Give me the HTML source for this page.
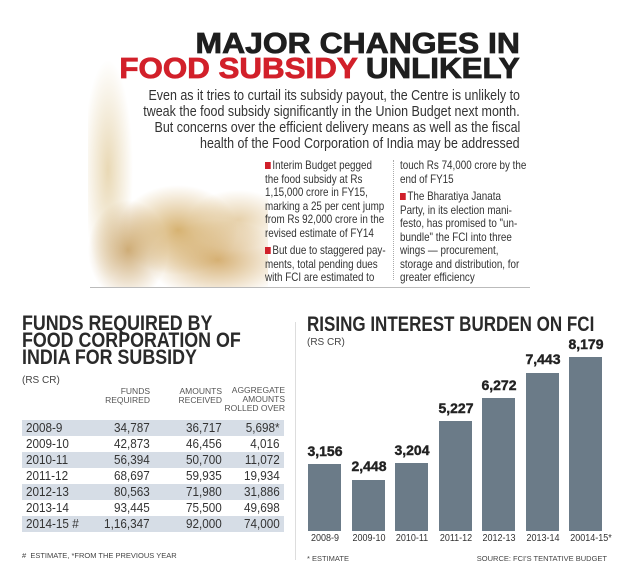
<!DOCTYPE html>
<html><head><meta charset="utf-8"><style>
body{margin:0;width:630px;height:580px;background:#fff;position:relative;overflow:hidden;font-family:"Liberation Sans",sans-serif;}
.a{position:absolute;white-space:nowrap;}
.hd{font-family:"Liberation Sans",sans-serif;font-weight:900;font-size:29px;letter-spacing:0px;line-height:29px;transform-origin:right top;-webkit-text-stroke:0.8px currentColor;}
.p{font-size:14.5px;color:#333;line-height:16px;text-align:right;right:110px;transform:scaleX(0.86);transform-origin:right top;}
.b{font-size:12px;color:#333;line-height:13.5px;transform:scaleX(0.82);transform-origin:left top;}
.sq{display:inline-block;width:7px;height:7px;background:#d0202b;margin-right:2px;}
.t{font-weight:bold;font-size:21px;color:#2a2a2a;line-height:17px;transform:scaleX(0.85);transform-origin:left top;}
.s{font-size:10px;color:#444;}
.row{position:absolute;left:22px;width:262px;height:16px;font-size:13px;color:#333;line-height:16px;}
.row span{position:absolute;transform:scaleX(0.9);transform-origin:right center;}
.bar{position:absolute;background:#6b7b88;width:33px;}
.v{position:absolute;font-weight:900;font-size:14px;color:#222;width:50px;text-align:center;-webkit-text-stroke:0.4px #222;}
.x{position:absolute;font-size:10px;color:#333;width:50px;text-align:center;top:533px;transform:scaleX(0.9);}
</style></head><body>
<!-- wheat -->
<div class="a" style="left:88px;top:20px;width:180px;height:268px;background:
radial-gradient(ellipse 60px 45px at 90px 210px,rgba(205,160,80,.8),rgba(230,200,140,0) 100%),
radial-gradient(ellipse 70px 40px at 130px 240px,rgba(200,150,70,.75),rgba(230,200,140,0) 100%),
radial-gradient(ellipse 40px 50px at 40px 230px,rgba(190,145,75,.75),rgba(230,200,140,0) 100%),
radial-gradient(ellipse 25px 110px at 20px 150px,rgba(215,185,120,.55),rgba(230,200,140,0) 100%),
radial-gradient(ellipse 50px 30px at 150px 200px,rgba(210,170,100,.55),rgba(230,200,140,0) 100%);"></div>
<div class="a" style="left:90px;top:287px;width:440px;height:1px;background:#bbb"></div>
<div class="a hd" style="right:110px;top:30px;color:#1e1e1e;transform:scaleX(1.1)">MAJOR CHANGES IN</div>
<div class="a hd" style="right:110px;top:55px;transform:scaleX(1.08)"><span style="color:#d2202a">FOOD SUBSIDY</span> <span style="color:#1e1e1e">UNLIKELY</span></div>
<div class="a p" style="top:88px">Even as it tries to curtail its subsidy payout, the Centre is unlikely to</div>
<div class="a p" style="top:104px">tweak the food subsidy significantly in the Union Budget next month.</div>
<div class="a p" style="top:120px">But concerns over the efficient delivery means as well as the fiscal</div>
<div class="a p" style="top:136px">health of the Food Corporation of India may be addressed</div>
<div class="a b" style="left:265px;top:159px"><span class="sq"></span>Interim Budget pegged<br>the food subsidy at Rs<br>1,15,000 crore in FY15,<br>marking a 25 per cent jump<br>from Rs 92,000 crore in the<br>revised estimate of FY14<br><span style="display:block;height:4px"></span><span class="sq"></span>But due to staggered pay-<br>ments, total pending dues<br>with FCI are estimated to</div>
<div class="a" style="left:393px;top:160px;width:0;height:120px;border-left:1px dotted #aaa"></div>
<div class="a b" style="left:400px;top:159px">touch Rs 74,000 crore by the<br>end of FY15<br><span style="display:block;height:4px"></span><span class="sq"></span>The Bharatiya Janata<br>Party, in its election mani-<br>festo, has promised to "un-<br>bundle" the FCI into three<br>wings — procurement,<br>storage and distribution, for<br>greater efficiency</div>

<!-- left table -->
<div class="a t" style="left:22px;top:315px">FUNDS REQUIRED BY<br>FOOD CORPORATION OF<br>INDIA FOR SUBSIDY</div>
<div class="a s" style="left:22px;top:375px">(RS CR)</div>
<div class="a s" style="left:22px;top:387px;width:262px;height:30px;font-size:8.5px;line-height:9px;color:#555">
<span style="position:absolute;right:134px;text-align:right">FUNDS<br>REQUIRED</span>
<span style="position:absolute;right:62px;text-align:right">AMOUNTS<br>RECEIVED</span>
<span style="position:absolute;right:-1px;text-align:right;top:-1px">AGGREGATE<br>AMOUNTS<br>ROLLED OVER</span></div>
<div class="row" style="top:420px;background:#d6dde6"><span style="left:4px;transform-origin:left center">2008-9</span><span style="right:134px">34,787</span><span style="right:62px">36,717</span><span style="right:4px">5,698*</span></div>
<div class="row" style="top:436px"><span style="left:4px;transform-origin:left center">2009-10</span><span style="right:134px">42,873</span><span style="right:62px">46,456</span><span style="right:4px">4,016</span></div>
<div class="row" style="top:452px;background:#d6dde6"><span style="left:4px;transform-origin:left center">2010-11</span><span style="right:134px">56,394</span><span style="right:62px">50,700</span><span style="right:4px">11,072</span></div>
<div class="row" style="top:468px"><span style="left:4px;transform-origin:left center">2011-12</span><span style="right:134px">68,697</span><span style="right:62px">59,935</span><span style="right:4px">19,934</span></div>
<div class="row" style="top:484px;background:#d6dde6"><span style="left:4px;transform-origin:left center">2012-13</span><span style="right:134px">80,563</span><span style="right:62px">71,980</span><span style="right:4px">31,886</span></div>
<div class="row" style="top:500px"><span style="left:4px;transform-origin:left center">2013-14</span><span style="right:134px">93,445</span><span style="right:62px">75,500</span><span style="right:4px">49,698</span></div>
<div class="row" style="top:516px;background:#d6dde6"><span style="left:4px;transform-origin:left center">2014-15 #</span><span style="right:134px">1,16,347</span><span style="right:62px">92,000</span><span style="right:4px">74,000</span></div>
<div class="a" style="left:22px;top:551px;font-size:7.5px;color:#444">#&nbsp; ESTIMATE, *FROM THE PREVIOUS YEAR</div>
<div class="a" style="left:295px;top:322px;width:1px;height:238px;background:#ddd"></div>

<!-- bar chart -->
<div class="a t" style="left:307px;top:316px;transform:scaleX(0.81)">RISING INTEREST BURDEN ON FCI</div>
<div class="a s" style="left:307px;top:337px">(RS CR)</div>
<div class="bar" style="left:308px;top:464px;height:67px"></div>
<div class="bar" style="left:352px;top:480px;height:51px"></div>
<div class="bar" style="left:395px;top:463px;height:68px"></div>
<div class="bar" style="left:439px;top:421px;height:110px"></div>
<div class="bar" style="left:482px;top:398px;height:133px"></div>
<div class="bar" style="left:526px;top:373px;height:158px"></div>
<div class="bar" style="left:569px;top:357px;height:174px"></div>
<div class="v" style="left:300px;top:443px">3,156</div>
<div class="v" style="left:344px;top:458px">2,448</div>
<div class="v" style="left:387px;top:442px">3,204</div>
<div class="v" style="left:431px;top:400px">5,227</div>
<div class="v" style="left:474px;top:377px">6,272</div>
<div class="v" style="left:518px;top:351px">7,443</div>
<div class="v" style="left:561px;top:336px">8,179</div>
<div class="x" style="left:300px">2008-9</div>
<div class="x" style="left:344px">2009-10</div>
<div class="x" style="left:387px">2010-11</div>
<div class="x" style="left:431px">2011-12</div>
<div class="x" style="left:474px">2012-13</div>
<div class="x" style="left:518px">2013-14</div>
<div class="x" style="left:563px;width:56px">20014-15*</div>
<div class="a" style="left:307px;top:554px;font-size:7.5px;color:#444">* ESTIMATE</div>
<div class="a" style="right:23px;top:554px;font-size:7.5px;color:#444">SOURCE: FCI'S TENTATIVE BUDGET</div>
</body></html>
